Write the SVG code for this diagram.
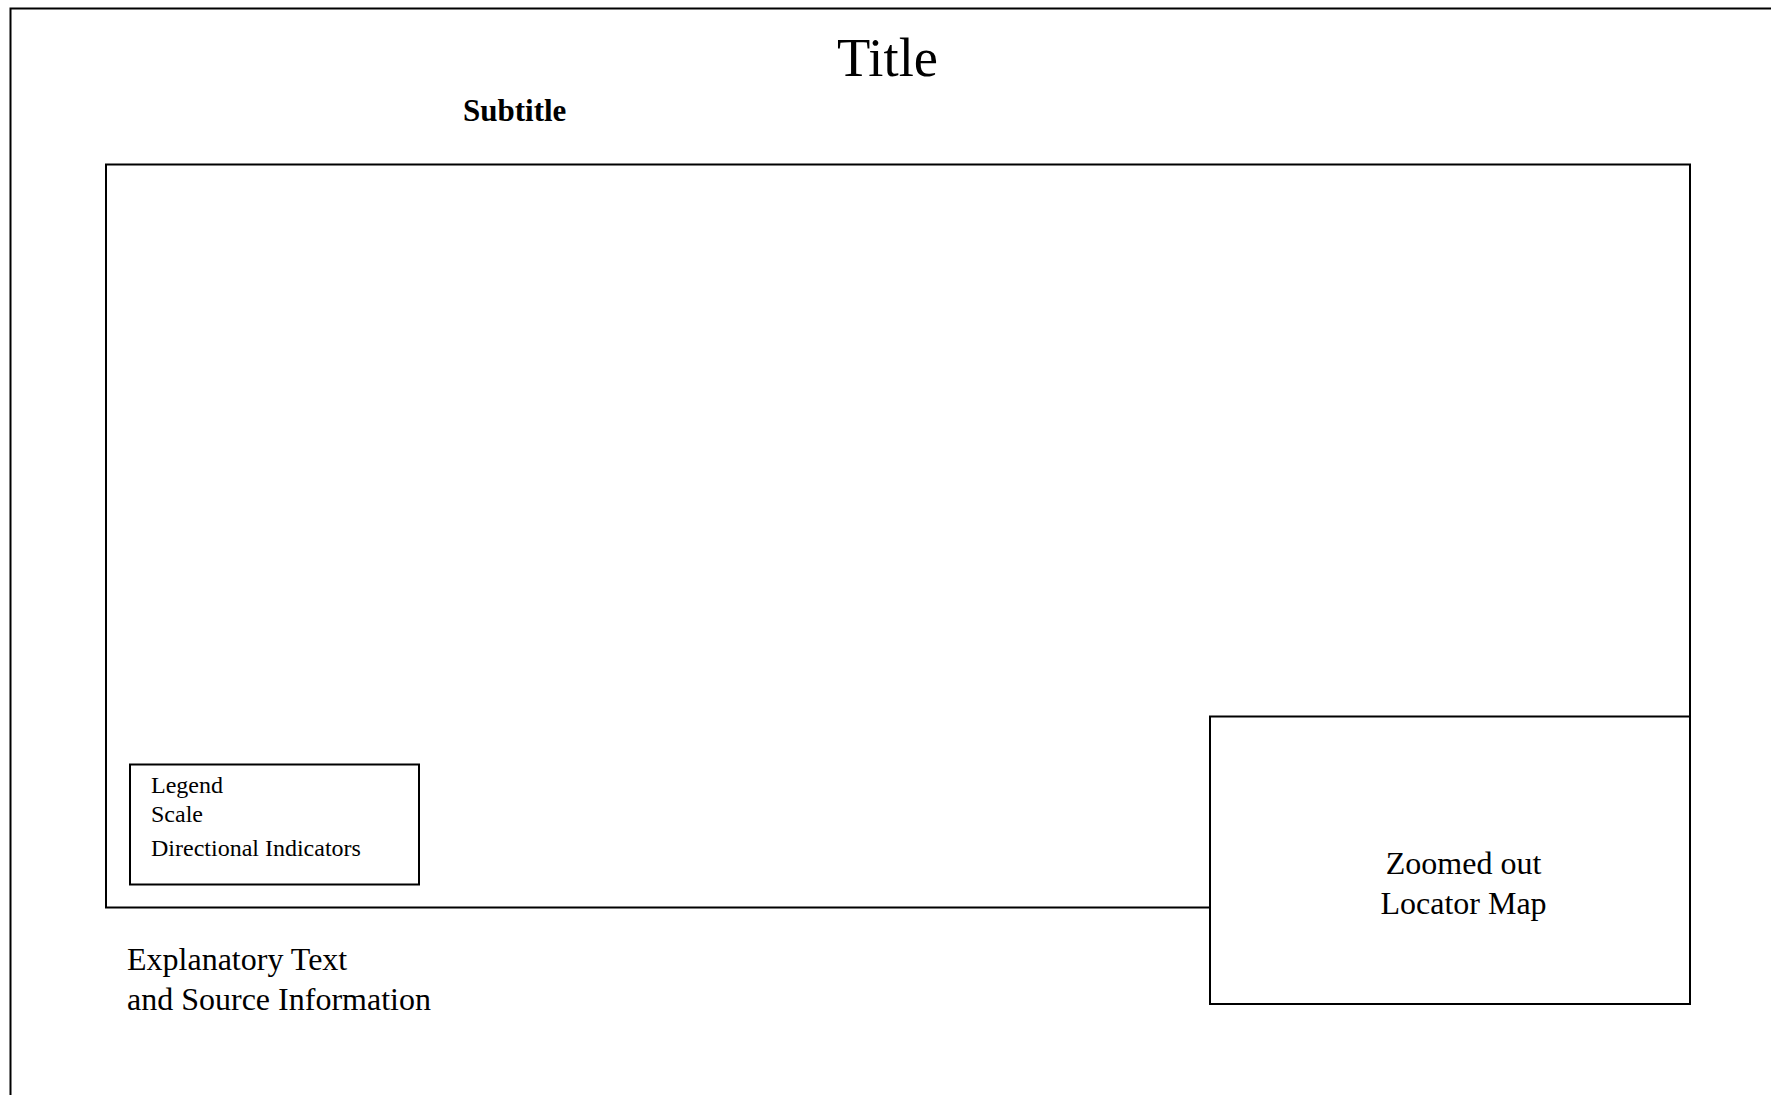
<svg xmlns="http://www.w3.org/2000/svg" width="1771" height="1095" viewBox="0 0 1771 1095">
  <style>
    .frame { fill: none; stroke: #000; stroke-width: 2; }
    .panel { fill: #fff; stroke: #000; stroke-width: 2; }
    text { font-family: "Liberation Serif", "Times New Roman", serif; fill: #000; }
    .title { font-size: 54.5px; }
    .subtitle { font-size: 31px; font-weight: bold; }
    .body { font-size: 32px; }
    .small { font-size: 24px; }
  </style>
  <rect width="1771" height="1095" fill="#fff"/>

  <!-- page border, running off the right and bottom edges -->
  <g id="page">
    <path class="frame" d="M10.5,1100 V8.5 H1780"/>
  </g>

  <g id="title">
    <text class="title" x="837" y="75.5">Title</text>
  </g>

  <g id="subtitle">
    <text class="subtitle" x="463" y="121">Subtitle</text>
  </g>

  <!-- main map area -->
  <g id="map">
    <rect class="frame" x="106" y="164.5" width="1584" height="743"/>
  </g>

  <g id="legend">
    <rect class="panel" x="130" y="764.5" width="289" height="120"/>
    <text class="small" x="151" y="793">Legend</text>
    <text class="small" x="151" y="822">Scale</text>
    <text class="small" x="151" y="856">Directional Indicators</text>
  </g>

  <g id="locator">
    <rect class="panel" x="1210" y="716.5" width="480" height="287.5"/>
    <text class="body" x="1463.5" y="874" text-anchor="middle">Zoomed out</text>
    <text class="body" x="1463.5" y="914" text-anchor="middle">Locator Map</text>
  </g>

  <g id="notes">
    <text class="body" x="127" y="970">Explanatory Text</text>
    <text class="body" x="127" y="1010">and Source Information</text>
  </g>

  <g id="connectors"></g>
</svg>
